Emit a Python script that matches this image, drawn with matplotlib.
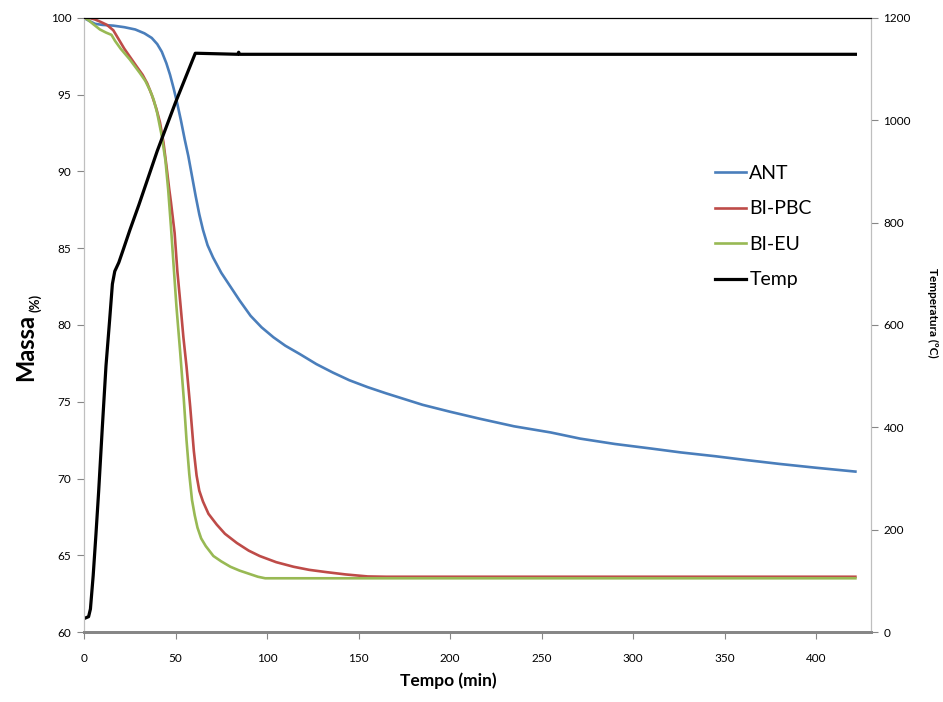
import numpy as np
import matplotlib.pyplot as plt

# values
t_ant = [0, 3, 6, 10, 16, 22, 28, 33, 37, 40, 42.5, 45, 47, 49, 51, 53, 55, 57,
         59, 61, 63, 65, 67.5, 70.5, 75, 80, 85, 91, 97, 103.5, 110, 118, 127,
         136, 145, 155, 165, 173, 185, 200, 216, 235, 255, 271, 290, 310, 326,
         345, 362, 380, 400, 421.5]
m_ant = [100, 99.8, 99.62, 99.55, 99.5, 99.4, 99.25, 99.0, 98.7, 98.3, 97.8,
         97.05, 96.3, 95.4, 94.4, 93.3, 92.1, 91.0, 89.7, 88.4, 87.2, 86.2, 85.2,
         84.4, 83.4, 82.5, 81.6, 80.6, 79.85, 79.2, 78.65, 78.1, 77.45, 76.9,
         76.4, 75.95, 75.55, 75.25, 74.8, 74.35, 73.9, 73.4, 73.0, 72.6, 72.25,
         71.95, 71.7, 71.45, 71.2, 70.95, 70.7, 70.45]

t_pbc = [0, 3, 6, 9, 12.5, 16, 19, 22, 25.5, 29, 32, 34.5, 37, 39.5, 41.5, 43.4,
         45, 46.5, 47.5, 49.5, 51, 52.5, 54.3, 56, 58, 60, 61.5, 63, 65, 68,
         72.5, 77, 83.5, 90, 96, 105, 114.5, 123, 132.5, 143, 155, 165, 421.5]
m_pbc = [100, 100, 99.9, 99.75, 99.55, 99.2, 98.6, 98.0, 97.4, 96.8, 96.3,
         95.75, 95.0, 94.1, 93.2, 91.9, 90.4, 88.9, 88.0, 86.0, 83.5, 81.6, 79.2,
         77.3, 74.7, 71.8, 70.2, 69.2, 68.5, 67.7, 67.0, 66.4, 65.8, 65.3, 64.95,
         64.55, 64.25, 64.05, 63.9, 63.75, 63.62, 63.6, 63.6]

t_eu = [0, 2, 5, 8.7, 12, 15, 17, 20, 25, 30.6, 33.5, 36, 38, 40, 42.5, 44.5,
        46, 47.5, 49, 50.5, 52.5, 54.5, 56, 57.5, 59, 60.5, 62, 64, 66.5, 70.7,
        75, 80, 85, 90, 95, 99, 421.5]
m_eu = [100, 99.9, 99.6, 99.25, 99.05, 98.9, 98.5, 98.0, 97.3, 96.4, 95.9, 95.3,
        94.7, 93.8, 92.3, 90.7, 88.8, 86.4, 83.8, 81.2, 78.3, 75.2, 72.5, 70.3,
        68.6, 67.6, 66.8, 66.1, 65.6, 64.95, 64.6, 64.25, 64.0, 63.8, 63.6, 63.5,
        63.5]

t_temp = [0.5, 2.5, 3.5, 5, 6.5, 8, 10, 12, 14, 15.5, 16.8, 19, 21.5, 25, 30,
          34, 40, 50, 60.8, 62, 84, 84.5, 85, 421.5]
temp = [27, 30, 45, 110, 190, 275, 400, 520, 610, 680, 705, 722, 748, 785, 835,
        877, 940, 1035, 1131, 1131, 1129, 1133, 1129, 1129]

plt.rcParams['font.family'] = ['Lato', 'DejaVu Sans']

fig = plt.figure(figsize=(9.43, 7.02), dpi=100)
ax = fig.add_axes([0.0891, 0.0997, 0.8345, 0.8747])
ax2 = ax.twinx()

l1, = ax.plot(t_ant, m_ant, color='#4A7EBB', lw=1.9, label='ANT',
              solid_joinstyle='round')
l2, = ax.plot(t_pbc, m_pbc, color='#BE4B48', lw=1.9, label='BI-PBC',
              solid_joinstyle='round')
l3, = ax.plot(t_eu, m_eu, color='#98B954', lw=1.9, label='BI-EU',
              solid_joinstyle='round')
l4, = ax2.plot(t_temp, temp, color='black', lw=2.3, label='Temp',
               solid_joinstyle='round')

ax.set_xlim(0, 430)
ax.set_ylim(60, 100)
ax2.set_ylim(0, 1200)
ax.set_xticks(np.arange(0, 401, 50))
ax.set_yticks(np.arange(60, 101, 5))
ax2.set_yticks(np.arange(0, 1201, 200))

for a in (ax, ax2):
    a.spines['left'].set_color('#BFBFBF')
    a.spines['right'].set_color('#BFBFBF')
    a.spines['bottom'].set_color('#868686')
    a.spines['bottom'].set_linewidth(2)
    a.spines['top'].set_color('black')
    a.spines['top'].set_linewidth(0.8)
ax.tick_params(axis='both', direction='out', length=5, color='#868686',
               labelsize=8.5, pad=4)
ax.tick_params(axis='x', pad=10)
ax2.tick_params(axis='y', direction='out', length=5, color='#868686',
                labelsize=8.5, pad=4)

fig.text(0.475, 0.018, 'Tempo (min)', fontsize=12.5, fontweight='bold',
         ha='center', va='bottom')
fig.text(0.027, 0.552, 'Massa', fontsize=17, fontweight='bold',
         rotation=90, ha='center', va='top')
fig.text(0.037, 0.556, '(%)', fontsize=9.5, fontweight='bold',
         rotation=90, ha='center', va='bottom')
fig.text(0.989, 0.555, 'Temperatura (ºC)', fontsize=8.5, fontweight='bold',
         rotation=270, ha='center', va='center')

ax.legend(handles=[l1, l2, l3, l4], loc='upper left',
          bbox_to_anchor=(0.74, 0.79), bbox_transform=fig.transFigure,
          frameon=False, fontsize=14, handlelength=1.6, handletextpad=0.15,
          labelspacing=0.95)

fig.savefig('out.png', dpi=100)
